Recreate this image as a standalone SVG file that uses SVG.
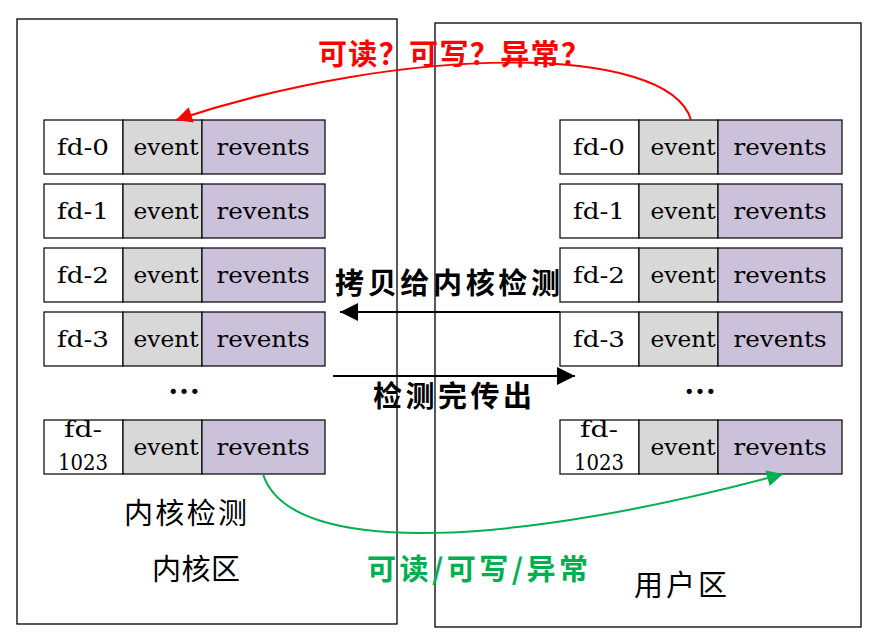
<svg xmlns="http://www.w3.org/2000/svg" width="877" height="640" viewBox="0 0 877 640">
<style>
.panel{fill:none;stroke:#000;stroke-width:1.3}
.c{stroke:#000;stroke-width:1.2}
.fd{fill:#fff}
.ev{fill:#d8d8d8}
.rv{fill:#ccc1da}
.t{font-family:"DejaVu Serif","Liberation Serif",serif;font-size:23px;fill:#000;text-anchor:middle}
.cjk{font-family:"Noto Sans CJK SC",sans-serif;font-size:29px;fill:#000}
.b{font-weight:bold}
.dots{font-family:"Liberation Serif",serif;font-size:32px;font-weight:bold;text-anchor:middle;fill:#000}
</style>
<defs>
<marker id="ar" viewBox="0 0 10 10" refX="10" refY="5" markerWidth="13" markerHeight="8" markerUnits="strokeWidth" orient="auto"><path d="M0,0 L10,5 L0,10 z" fill="#f00"/></marker>
<marker id="ag" viewBox="0 0 10 10" refX="10" refY="5" markerWidth="13" markerHeight="8" markerUnits="strokeWidth" orient="auto"><path d="M0,0 L10,5 L0,10 z" fill="#00b050"/></marker>
<marker id="ab" viewBox="0 0 10 10" refX="10" refY="5" markerWidth="13" markerHeight="9" markerUnits="strokeWidth" orient="auto"><path d="M0,0 L10,5 L0,10 z" fill="#000"/></marker>
</defs>
<rect width="877" height="640" fill="#fff"/>
<g id="kernel-panel"><rect class="panel" x="17" y="19" width="380" height="605"/>
<text class="cjk" x="124" y="524" textLength="123">内核检测</text>
<text class="cjk" x="152" y="580" textLength="88">内核区</text>
<text class="dots" x="184" y="394">…</text></g>
<g id="user-panel"><rect class="panel" x="435" y="23" width="426" height="604"/>
<text class="cjk" x="634" y="596" textLength="93">用户区</text>
<text class="dots" x="700" y="394">…</text></g>

<g id="k-fd0"><rect class="c fd" x="44" y="120" width="79" height="54"/><rect class="c ev" x="123" y="120" width="79" height="54"/><rect class="c rv" x="202" y="120" width="123" height="54"/>
<text class="t" x="83" y="155" textLength="52" lengthAdjust="spacingAndGlyphs">fd-0</text><text class="t" x="166" y="155" textLength="65" lengthAdjust="spacingAndGlyphs">event</text><text class="t" x="263" y="155" textLength="93" lengthAdjust="spacingAndGlyphs">revents</text></g>
<g id="k-fd1"><rect class="c fd" x="44" y="184" width="79" height="54"/><rect class="c ev" x="123" y="184" width="79" height="54"/><rect class="c rv" x="202" y="184" width="123" height="54"/>
<text class="t" x="83" y="219" textLength="52" lengthAdjust="spacingAndGlyphs">fd-1</text><text class="t" x="166" y="219" textLength="65" lengthAdjust="spacingAndGlyphs">event</text><text class="t" x="263" y="219" textLength="93" lengthAdjust="spacingAndGlyphs">revents</text></g>
<g id="k-fd2"><rect class="c fd" x="44" y="248" width="79" height="54"/><rect class="c ev" x="123" y="248" width="79" height="54"/><rect class="c rv" x="202" y="248" width="123" height="54"/>
<text class="t" x="83" y="283" textLength="52" lengthAdjust="spacingAndGlyphs">fd-2</text><text class="t" x="166" y="283" textLength="65" lengthAdjust="spacingAndGlyphs">event</text><text class="t" x="263" y="283" textLength="93" lengthAdjust="spacingAndGlyphs">revents</text></g>
<g id="k-fd3"><rect class="c fd" x="44" y="312" width="79" height="54"/><rect class="c ev" x="123" y="312" width="79" height="54"/><rect class="c rv" x="202" y="312" width="123" height="54"/>
<text class="t" x="83" y="347" textLength="52" lengthAdjust="spacingAndGlyphs">fd-3</text><text class="t" x="166" y="347" textLength="65" lengthAdjust="spacingAndGlyphs">event</text><text class="t" x="263" y="347" textLength="93" lengthAdjust="spacingAndGlyphs">revents</text></g>
<g id="k-fd1023"><rect class="c fd" x="44" y="420" width="79" height="54"/><rect class="c ev" x="123" y="420" width="79" height="54"/><rect class="c rv" x="202" y="420" width="123" height="54"/>
<text class="t" x="83" y="437" textLength="38" lengthAdjust="spacingAndGlyphs">fd-</text><text class="t" x="83" y="470" textLength="50" lengthAdjust="spacingAndGlyphs">1023</text><text class="t" x="166" y="455" textLength="65" lengthAdjust="spacingAndGlyphs">event</text><text class="t" x="263" y="455" textLength="93" lengthAdjust="spacingAndGlyphs">revents</text></g>

<g id="u-fd0"><rect class="c fd" x="560" y="120" width="79" height="54"/><rect class="c ev" x="639" y="120" width="79" height="54"/><rect class="c rv" x="718" y="120" width="124" height="54"/>
<text class="t" x="599" y="155" textLength="52" lengthAdjust="spacingAndGlyphs">fd-0</text><text class="t" x="683" y="155" textLength="65" lengthAdjust="spacingAndGlyphs">event</text><text class="t" x="780" y="155" textLength="93" lengthAdjust="spacingAndGlyphs">revents</text></g>
<g id="u-fd1"><rect class="c fd" x="560" y="184" width="79" height="54"/><rect class="c ev" x="639" y="184" width="79" height="54"/><rect class="c rv" x="718" y="184" width="124" height="54"/>
<text class="t" x="599" y="219" textLength="52" lengthAdjust="spacingAndGlyphs">fd-1</text><text class="t" x="683" y="219" textLength="65" lengthAdjust="spacingAndGlyphs">event</text><text class="t" x="780" y="219" textLength="93" lengthAdjust="spacingAndGlyphs">revents</text></g>
<g id="u-fd2"><rect class="c fd" x="560" y="248" width="79" height="54"/><rect class="c ev" x="639" y="248" width="79" height="54"/><rect class="c rv" x="718" y="248" width="124" height="54"/>
<text class="t" x="599" y="283" textLength="52" lengthAdjust="spacingAndGlyphs">fd-2</text><text class="t" x="683" y="283" textLength="65" lengthAdjust="spacingAndGlyphs">event</text><text class="t" x="780" y="283" textLength="93" lengthAdjust="spacingAndGlyphs">revents</text></g>
<g id="u-fd3"><rect class="c fd" x="560" y="312" width="79" height="54"/><rect class="c ev" x="639" y="312" width="79" height="54"/><rect class="c rv" x="718" y="312" width="124" height="54"/>
<text class="t" x="599" y="347" textLength="52" lengthAdjust="spacingAndGlyphs">fd-3</text><text class="t" x="683" y="347" textLength="65" lengthAdjust="spacingAndGlyphs">event</text><text class="t" x="780" y="347" textLength="93" lengthAdjust="spacingAndGlyphs">revents</text></g>
<g id="u-fd1023"><rect class="c fd" x="560" y="420" width="79" height="54"/><rect class="c ev" x="639" y="420" width="79" height="54"/><rect class="c rv" x="718" y="420" width="124" height="54"/>
<text class="t" x="599" y="437" textLength="38" lengthAdjust="spacingAndGlyphs">fd-</text><text class="t" x="599" y="470" textLength="50" lengthAdjust="spacingAndGlyphs">1023</text><text class="t" x="683" y="455" textLength="65" lengthAdjust="spacingAndGlyphs">event</text><text class="t" x="780" y="455" textLength="93" lengthAdjust="spacingAndGlyphs">revents</text></g>

<g id="connectors" fill="none">
<path d="M691,120 C668,42 400,45 176,120" stroke="#f00" stroke-width="2" marker-end="url(#ar)"/>
<path d="M560,312 L340,312" stroke="#000" stroke-width="2" marker-end="url(#ab)"/>
<path d="M333,376 L575,376" stroke="#000" stroke-width="2" marker-end="url(#ab)"/>
<path d="M263,474 C290,560 520,545 783,474" stroke="#00b050" stroke-width="2" marker-end="url(#ag)"/>
</g>
<g id="labels">
<text class="cjk b" x="318" y="65" style="fill:#f00" textLength="272">可读？可写？异常？</text>
<text class="cjk b" x="335" y="294" textLength="225">拷贝给内核检测</text>
<text class="cjk b" x="373" y="407" textLength="159">检测完传出</text>
<text class="cjk b" x="367" y="580" style="fill:#00b050" textLength="221">可读/可写/异常</text>
</g>
</svg>
